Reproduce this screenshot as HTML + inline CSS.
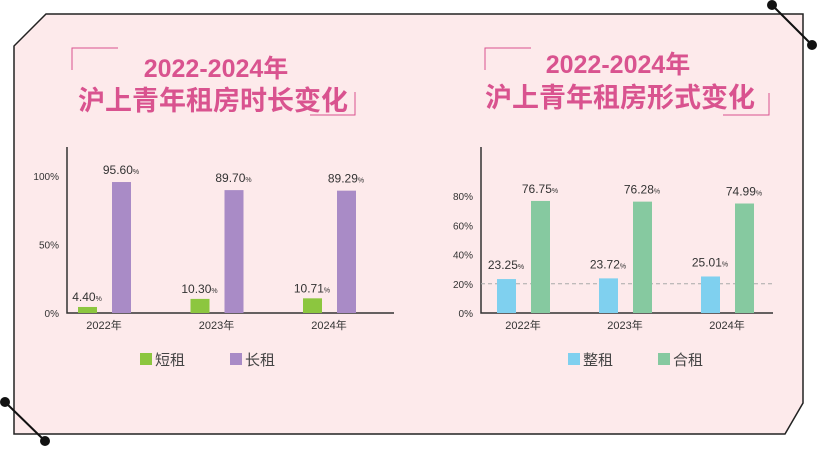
<!DOCTYPE html>
<html><head><meta charset="utf-8"><style>
body{margin:0;width:818px;height:449px;background:#fff;overflow:hidden;font-family:"Liberation Sans","Noto Sans CJK SC",sans-serif}
svg{display:block}
</style></head><body>
<svg id="s" width="818" height="449" xmlns="http://www.w3.org/2000/svg">
<polygon points="46,14 803,14 803,403 785,434 14,434 14,46" fill="#fdeaeb" stroke="#222" stroke-width="1.5"/>
<g><line x1="772" y1="5" x2="812" y2="45" stroke="#111" stroke-width="2"/><circle cx="772" cy="5" r="5" fill="#111"/><circle cx="812" cy="45" r="5" fill="#111"/></g>
<g><line x1="5" y1="402" x2="45" y2="441" stroke="#111" stroke-width="2"/><circle cx="5" cy="402" r="5" fill="#111"/><circle cx="45" cy="441" r="5" fill="#111"/></g>
<g fill="#d9538f" font-weight="bold" text-anchor="middle" font-family="Liberation Sans,Noto Sans CJK SC,sans-serif">
<text x="216" y="77" font-size="25">2022-2024年</text>
<text x="213" y="110" font-size="27">沪上青年租房时长变化</text>
<text x="618" y="73" font-size="25">2022-2024年</text>
<text x="620" y="107" font-size="27">沪上青年租房形式变化</text>
</g>
<g stroke="#d9538f" fill="none" stroke-width="1">
<polyline points="72,70 72,48 118,48"/><polyline points="310,115 355,115 355,92"/>
<polyline points="485,70 485,48 531,48"/><polyline points="723,115 769,115 769,93"/>
</g>
<g id="c1"></g>
<g id="c2"></g>
</svg>
<script>
const years=["2022年","2023年","2024年"];
const shortRent=[4.40,10.30,10.71];
const longRent=[95.60,89.70,89.29];
const shortLabels=["4.40","10.30","10.71"];
const longLabels=["95.60","89.70","89.29"];
const leftTicks=[0,50,100];
const wholeRent=[23.25,23.72,25.01];
const sharedRent=[76.75,76.28,74.99];
const wholeLabels=["23.25","23.72","25.01"];
const sharedLabels=["76.75","76.28","74.99"];
const rightTicks=[0,20,40,60,80];
const NS="http://www.w3.org/2000/svg";
function mk(p,t,a,txt){const e=document.createElementNS(NS,t);for(const k in a)e.setAttribute(k,a[k]);if(txt!=null)e.textContent=txt;p.appendChild(e);return e;}
function chart(g,o){
  const y=v=>o.base-v*o.k;
  const ax=mk(g,'path',{d:`M${o.ax},147 V${o.base} H${o.xend}`,stroke:'#333','stroke-width':1.5,fill:'none'});
  
  
  if(o.dash){const d=mk(g,'line',{x1:o.ax,x2:o.xend,y1:y(20),y2:y(20),stroke:'#aaa','stroke-dasharray':'4,3','stroke-width':1});
    
    }
  o.ticks.forEach(t=>{const e=mk(g,'text',{x:o.ax-8,y:y(t)+4,'font-size':10,fill:'#333','text-anchor':'end'},t+'%');
    
    });
  years.forEach((yr,i)=>{
    const x0=o.x0+i*o.step;
    const b1=mk(g,'rect',{x:x0,y:y(o.a[i]),width:19,height:o.a[i]*o.k,fill:o.c1});
    
    
    const b2=mk(g,'rect',{x:x0+34,y:y(o.b[i]),width:19,height:o.b[i]*o.k,fill:o.c2});
    
    
    const l1=mk(g,'text',{x:x0+9,y:y(o.a[i])-6-(o.lift?o.lift:0),'font-size':12,fill:'#333','text-anchor':'middle'});
    l1.innerHTML=o.la[i]+'<tspan font-size="7">%</tspan>';
    
    
    const l2=mk(g,'text',{x:x0+43,y:y(o.b[i])-8,'font-size':12,fill:'#333','text-anchor':'middle'});
    l2.innerHTML=o.lb[i]+'<tspan font-size="7">%</tspan>';
    
    
    const xl=mk(g,'text',{x:x0+26,y:o.base+16,'font-size':11,fill:'#333','text-anchor':'middle'},yr);
    
    
  });
  [[o.lx1,o.c1,o.t1],[o.lx2,o.c2,o.t2]].forEach(([lx,c,t])=>{
    const r=mk(g,'rect',{x:lx,y:353,width:12,height:12,fill:c});
    
    
    const tx=mk(g,'text',{x:lx+15,y:365,'font-size':15,fill:'#444'},t);
    
    
  });
}
chart(document.getElementById('c1'),{ax:67,base:313,k:1.37,xend:394,x0:78,step:112.5,a:shortRent,b:longRent,la:shortLabels,lb:longLabels,ticks:leftTicks,c1:'#8cc63f',c2:'#a98bc6',n1:'short',n2:'long',t1:'短租',t2:'长租',lx1:140,lx2:230});
chart(document.getElementById('c2'),{ax:481,base:313,k:1.46,xend:773,x0:497,step:102,a:wholeRent,b:sharedRent,la:wholeLabels,lb:sharedLabels,ticks:rightTicks,c1:'#7fd0ef',c2:'#86c9a0',n1:'whole',n2:'shared',t1:'整租',t2:'合租',lx1:568,lx2:658,dash:true,lift:4});
</script>
</body></html>
